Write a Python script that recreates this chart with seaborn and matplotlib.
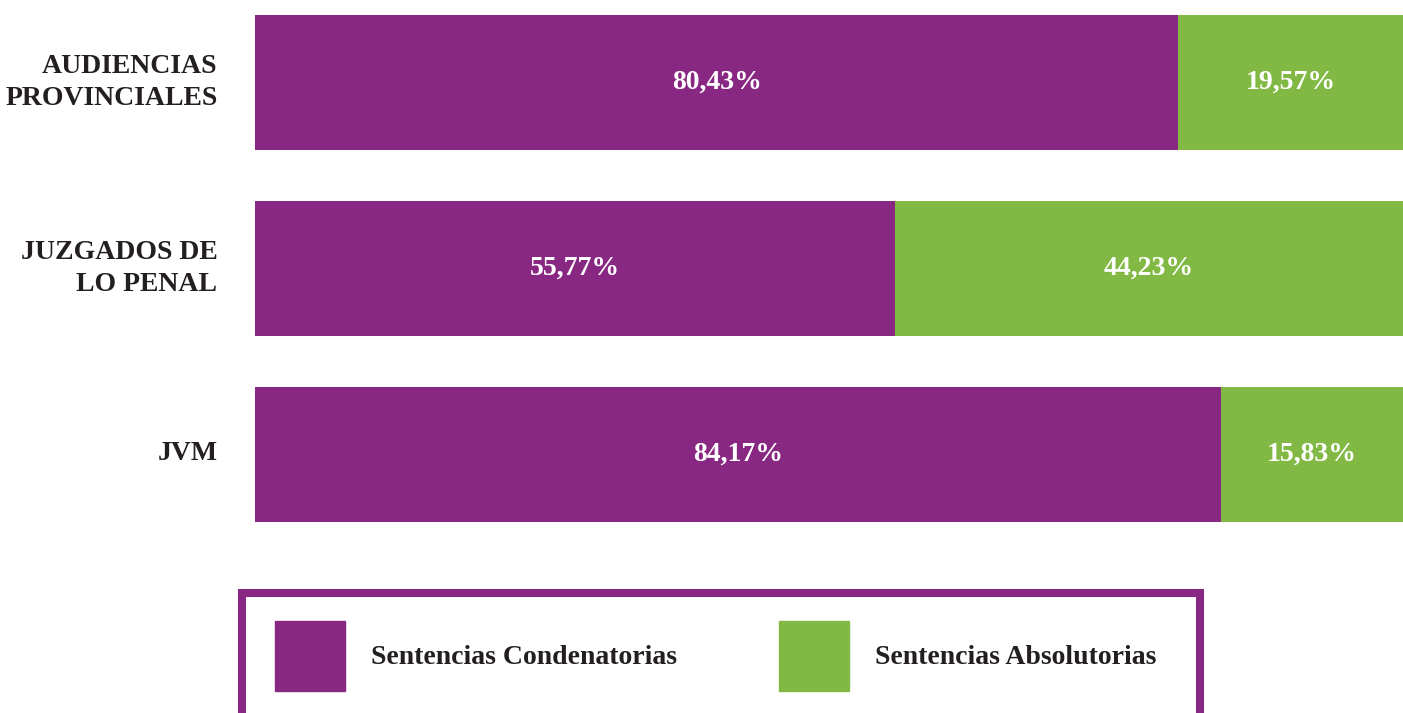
import matplotlib
matplotlib.use("Agg")
import matplotlib.pyplot as plt
import matplotlib.patches as mpatches
import seaborn as sns
import pandas as pd

# data
categorias = ["AUDIENCIAS\nPROVINCIALES", "JUZGADOS DE\nLO PENAL", "JVM"]
condenatorias = [80.43, 55.77, 84.17]
absolutorias = [19.57, 44.23, 15.83]
series = ["Sentencias Condenatorias", "Sentencias Absolutorias"]

PURPLE = "#892882"
GREEN = "#82B944"
INK = "#231F20"

df = pd.DataFrame({"cat": categorias, "cond": condenatorias, "abs": absolutorias})
df["total"] = df["cond"] + df["abs"]

sns.set_style("white")
plt.rcParams["font.family"] = ["Liberation Serif", "DejaVu Serif"]
plt.rcParams["font.weight"] = "bold"

W, H = 1403, 713
fig = plt.figure(figsize=(W / 100, H / 100), dpi=100)
ax = fig.add_axes([255 / W, 1 - 540 / H, 1 - 255 / W, 540 / H])

bar_h = 135 / 185.75
# stacked: green total underneath, purple share on top
sns.barplot(data=df, x="total", y="cat", color=GREEN, width=bar_h, saturation=1,
            linewidth=0, ax=ax)
sns.barplot(data=df, x="cond", y="cat", color=PURPLE, width=bar_h, saturation=1,
            linewidth=0, ax=ax)

ax.set_xlim(0, 100)
ax.set_ylim(2 + (540 - 454) / 185.75, -82.5 / 185.75)
ax.set_xlabel("")
ax.set_ylabel("")
ax.set_xticks([])
sns.despine(ax=ax, left=True, bottom=True)
ax.tick_params(axis="y", length=0, pad=27)
for t in ax.get_yticklabels():
    t.set_fontsize(20)
    t.set_fontweight("bold")
    t.set_color(INK)
    t.set_linespacing(1.38)
    t.set_verticalalignment("center")

def fmt(v):
    return f"{v:.2f}".replace(".", ",") + "%"

for i, (c, a) in enumerate(zip(condenatorias, absolutorias)):
    ax.text(c / 2, i, fmt(c), ha="center", va="center", color="white",
            fontsize=20, fontweight="bold")
    ax.text(c + a / 2, i, fmt(a), ha="center", va="center", color="white",
            fontsize=20, fontweight="bold")

# legend frame (open at the bottom edge of the image)
frame = mpatches.Rectangle((242 / W, -0.1), (1200 - 242) / W, 1.1 - 593 / H,
                           transform=fig.transFigure, fill=False,
                           edgecolor=PURPLE, linewidth=5.8, clip_on=False)
fig.add_artist(frame)

handles = [mpatches.Patch(color=PURPLE, label=series[0]),
           mpatches.Patch(color=GREEN, label=series[1])]
leg = fig.legend(handles=handles, loc="center left", ncol=2,
                 bbox_to_anchor=(275 / W, 1 - 656 / H), frameon=False,
                 borderpad=0, borderaxespad=0, handlelength=2.52,
                 handleheight=3.5, handletextpad=0.94, columnspacing=3.67,
                 prop={"size": 20, "weight": "bold"})
for t in leg.get_texts():
    t.set_color(INK)

fig.savefig("out.png", dpi=100)
